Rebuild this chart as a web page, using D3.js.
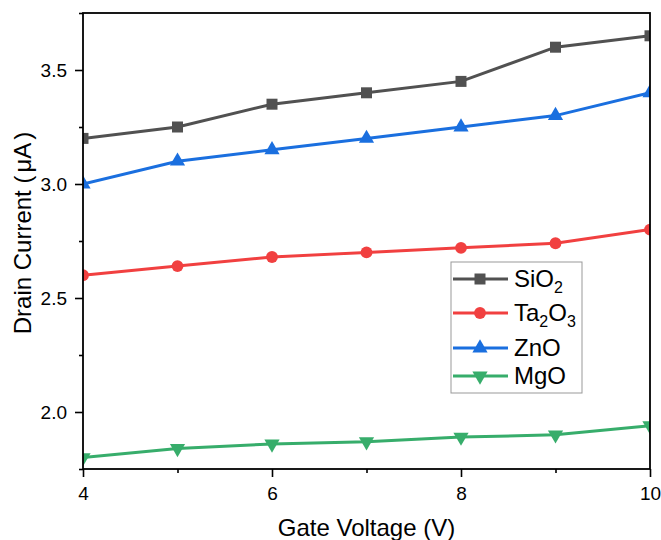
<!DOCTYPE html>
<html>
<head>
<meta charset="utf-8">
<script src="https://cdn.jsdelivr.net/npm/d3@7"></script>
<style>
  body { margin: 0; background: #fff; }
  svg { display: block; font-family: Arial, "Liberation Sans", sans-serif; }
</style>
</head>
<body>
<svg id="chart" width="661" height="540"></svg>
<script>
// data
const gateVoltage = [4, 5, 6, 7, 8, 9, 10];
const sio2 = [3.2, 3.25, 3.35, 3.4, 3.45, 3.6, 3.65];
const ta2o3 = [2.6, 2.64, 2.68, 2.7, 2.72, 2.74, 2.8];
const zno = [3.0, 3.1, 3.15, 3.2, 3.25, 3.3, 3.4];
const mgo = [1.8, 1.84, 1.86, 1.87, 1.89, 1.9, 1.94];
const xMajorTicks = [4, 6, 8, 10];
const xMinorTicks = [5, 7, 9];
const yMajorTicks = [2.0, 2.5, 3.0, 3.5];
const yMinorTicks = [1.75, 2.25, 2.75, 3.25, 3.75];

const series = [
  { name: "SiO", sub: "2", name2: "", sub2: "", values: sio2, color: "#515151", marker: "square" },
  { name: "Ta", sub: "2", name2: "O", sub2: "3", values: ta2o3, color: "#F14040", marker: "circle" },
  { name: "ZnO", sub: "", name2: "", sub2: "", values: zno, color: "#1A6FDF", marker: "triangle" },
  { name: "MgO", sub: "", name2: "", sub2: "", values: mgo, color: "#37AD6B", marker: "triangleDown" }
];

const margin = { top: 13, right: 11, bottom: 71, left: 83 };
const width = 661 - margin.left - margin.right;
const height = 540 - margin.top - margin.bottom;

const svg = d3.select("#chart");
const g = svg.append("g").attr("transform", `translate(${margin.left},${margin.top})`);

const x = d3.scaleLinear().domain([4, 10]).range([0, width]);
const y = d3.scaleLinear().domain([1.75, 3.75]).range([height, 0]);

// clip so the end markers get cut by the frame like the original
g.append("clipPath").attr("id", "plot-clip")
  .append("rect").attr("width", width).attr("height", height);

// markers
const symbolFor = (m) => {
  if (m === "square") return d3.symbol().type(d3.symbolSquare).size(121);
  if (m === "circle") return d3.symbol().type(d3.symbolCircle).size(110);
  return d3.symbol().type(d3.symbolTriangle).size(100);
};

const line = d3.line().x((d, i) => x(gateVoltage[i])).y(d => y(d));

const plot = g.append("g").attr("clip-path", "url(#plot-clip)");
series.forEach(s => {
  plot.append("path")
    .attr("d", line(s.values))
    .attr("fill", "none")
    .attr("stroke", s.color)
    .attr("stroke-width", 3);
  plot.selectAll(null)
    .data(s.values)
    .enter()
    .append("path")
    .attr("d", symbolFor(s.marker)())
    .attr("transform", (d, i) => `translate(${x(gateVoltage[i])},${y(d)})` + (s.marker === "triangleDown" ? " rotate(180)" : ""))
    .attr("fill", s.color);
});

// axes
g.append("g")
  .attr("transform", `translate(0,${height})`)
  .call(d3.axisBottom(x).tickValues(xMajorTicks).tickSize(8).tickPadding(10).tickFormat(d3.format("d")));
g.append("g")
  .attr("transform", `translate(0,${height})`)
  .call(d3.axisBottom(x).tickValues(xMinorTicks).tickSize(4).tickFormat(""));
g.append("g")
  .call(d3.axisLeft(y).tickValues(yMajorTicks).tickSize(8).tickPadding(8).tickFormat(d3.format(".1f")));
g.append("g")
  .call(d3.axisLeft(y).tickValues(yMinorTicks).tickSize(4).tickFormat(""));

g.selectAll(".domain").remove();
g.selectAll(".tick line").attr("stroke", "#000").attr("stroke-width", 1.6);
g.selectAll(".tick text").attr("fill", "#000").style("font-size", "19px");

// frame
g.append("rect")
  .attr("width", width).attr("height", height)
  .attr("fill", "none").attr("stroke", "#000").attr("stroke-width", 1.8);

// axis titles
svg.append("text")
  .attr("x", margin.left + width / 2)
  .attr("y", 536)
  .attr("text-anchor", "middle")
  .style("font-size", "24px")
  .text("Gate Voltage (V)");

const yTitle = svg.append("text")
  .attr("transform", "translate(31,233) rotate(-90)")
  .attr("text-anchor", "middle")
  .style("font-size", "24px");
yTitle.append("tspan").text("Drain Current (");
yTitle.append("tspan").attr("dx", 3).text("μA");
yTitle.append("tspan").attr("dx", 3).text(")");

// legend
const legend = svg.append("g");
legend.append("rect")
  .attr("x", 451).attr("y", 262).attr("width", 131).attr("height", 131)
  .attr("fill", "#fff").attr("stroke", "#999").attr("stroke-width", 1);

const rowY = [279, 313, 348, 376];
series.forEach((s, i) => {
  const row = legend.append("g").attr("transform", `translate(0,${rowY[i]})`);
  row.append("line")
    .attr("x1", 453).attr("x2", 508)
    .attr("stroke", s.color).attr("stroke-width", 3);
  row.append("path")
    .attr("d", symbolFor(s.marker)())
    .attr("transform", "translate(480,0)" + (s.marker === "triangleDown" ? " rotate(180)" : ""))
    .attr("fill", s.color);
  const t = row.append("text").attr("x", 514).attr("y", 8).style("font-size", "24px");
  t.append("tspan").text(s.name);
  if (s.sub) t.append("tspan").attr("dy", 6).style("font-size", "16px").text(s.sub);
  if (s.name2) t.append("tspan").attr("dy", -6).text(s.name2);
  if (s.sub2) t.append("tspan").attr("dy", 6).style("font-size", "16px").text(s.sub2);
});
</script>
</body>
</html>
